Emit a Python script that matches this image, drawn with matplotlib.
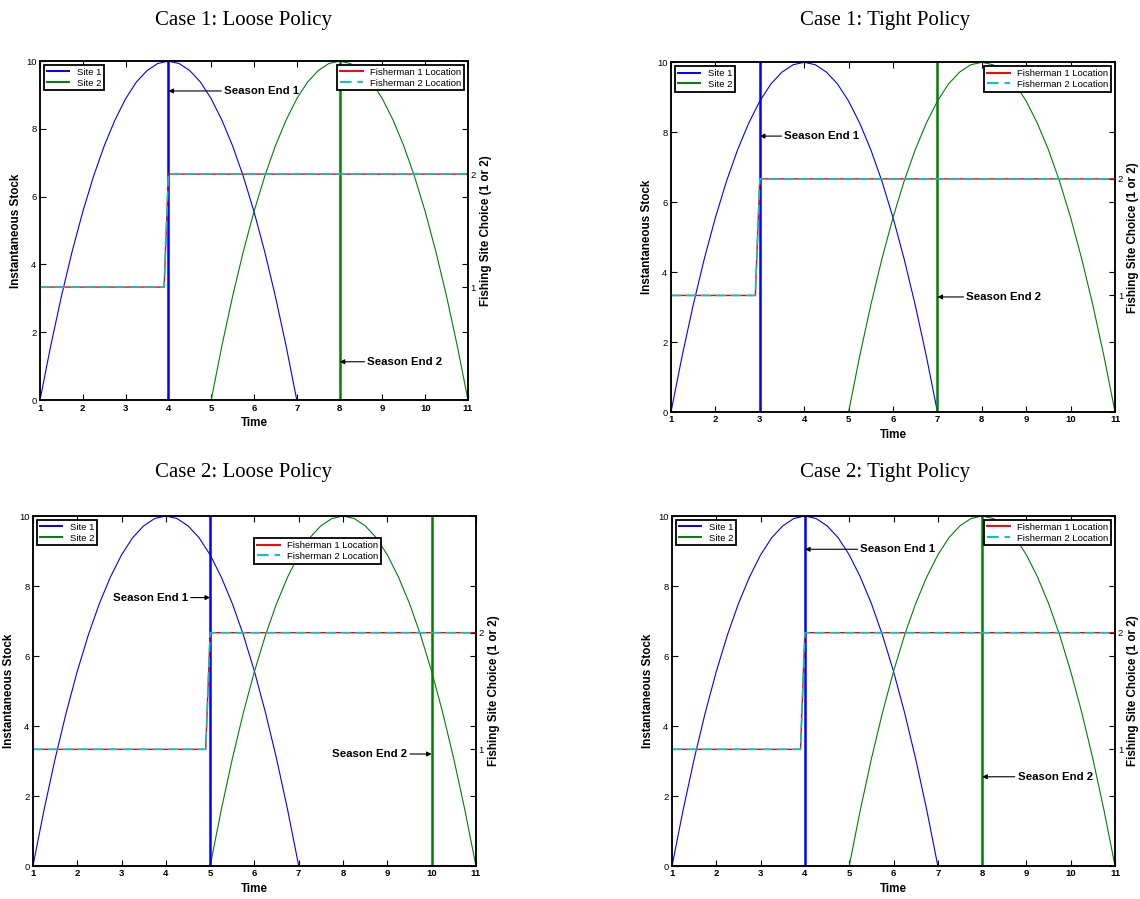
"""Fishing site stock and season-end plots, four policy cases."""

import matplotlib

matplotlib.use("Agg")
from matplotlib import pyplot as plt

plt.rcParams["font.family"] = ["Liberation Sans", "DejaVu Sans"]

# stock over one season, time measured from the season start
season_dt = [0, 0.25, 0.5, 0.75, 1, 1.25, 1.5, 1.75, 2, 2.25, 2.5, 2.75, 3,
             3.25, 3.5, 3.75, 4, 4.25, 4.5, 4.75, 5, 5.25, 5.5, 5.75, 6]
season_stock = [0, 1.6, 3.06, 4.38, 5.56, 6.6, 7.5, 8.26, 8.89, 9.38, 9.72,
                9.93, 10, 9.93, 9.72, 9.38, 8.89, 8.26, 7.5, 6.6, 5.56, 4.38,
                3.06, 1.6, 0]
site_start = [1, 5]
t_min, t_max = 1, 11

titles = ["Case 1: Loose Policy", "Case 1: Tight Policy",
          "Case 2: Loose Policy", "Case 2: Tight Policy"]
season_end_1 = [4, 3, 5, 4]
season_end_2 = [8, 7, 10, 8]
# where the "Season End" arrows point (stock value) and where the text sits
arrow1_y = [9.12, 7.89, 7.67, 9.05]
arrow2_y = [1.13, 3.29, 3.2, 2.55]
text1_x = [5.3, 3.55, 4.5, 5.25]
text2_x = [8.65, 7.65, 9.45, 8.8]
text_side = ["left", "left", "right", "left"]

# axes rectangles in figure fractions, and title positions
axes_rects = [
    [0.0351, 0.555, 0.3754, 0.377],
    [0.5886, 0.5417, 0.3895, 0.389],
    [0.0289, 0.0367, 0.3886, 0.3893],
    [0.5895, 0.0367, 0.3886, 0.3893],
]
title_xy = [(0.214, 0.977), (0.776, 0.977), (0.214, 0.474), (0.776, 0.474)]
fisher_legend_anchor = [None, None, (0.499, 0.937), None]

BLUE = (0, 0, 1)
GREEN = (0, 0.5, 0)
RED = (1, 0, 0)
CYAN = (0, 0.78, 0.78)


def site_series(start):
    t = [t_min] + [start + d for d in season_dt] + [t_max]
    s = [0] + season_stock + [0]
    return t, s


def boxed_legend(ax, handles, **kw):
    leg = ax.legend(handles=handles, fontsize=6.8, fancybox=False,
                    edgecolor="k", framealpha=1, handlelength=2.4,
                    borderpad=0.3, labelspacing=0.2, **kw)
    leg.get_frame().set_linewidth(1.3)
    for line in leg.get_lines():
        line.set_linewidth(1.4)
    return leg


fig = plt.figure(figsize=(11.4, 8.99), dpi=100)

for i, rect in enumerate(axes_rects):
    ax = fig.add_axes(rect)
    ax2 = ax.twinx()

    t1, s1 = site_series(site_start[0])
    t2, s2 = site_series(site_start[1])
    h1, = ax.plot(t1, s1, color=BLUE, lw=0.8, label="Site 1")
    h2, = ax.plot(t2, s2, color=GREEN, lw=0.8, label="Site 2")
    ax.plot([season_end_1[i]] * 2, [0, 10], color=BLUE, lw=1.8)
    ax.plot([season_end_2[i]] * 2, [0, 10], color=GREEN, lw=1.8)

    # fishermen switch from site 1 to site 2 at the first season end
    sw = season_end_1[i]
    ft = [t_min, sw - 0.1, sw, t_max]
    fc = [1, 1, 2, 2]
    f1, = ax2.plot(ft, fc, color=RED, lw=1.0, label="Fisherman 1 Location")
    f2, = ax2.plot(ft, fc, color=CYAN, lw=1.2, ls=(0, (6, 3)),
                   label="Fisherman 2 Location")

    ax.set_xlim(t_min, t_max)
    ax.set_ylim(0, 10)
    ax2.set_ylim(0, 3)
    ax.set_xticks(range(1, 12))
    ax.set_yticks(range(0, 11, 2))
    ax2.set_yticks([1, 2])
    ax.tick_params(direction="in", top=True, right=True, labelsize=6.8,
                   length=4, width=0.8, pad=2.5)
    ax2.tick_params(direction="in", labelsize=6.8, length=4, width=0.8, pad=2)
    for lab in ax.get_xticklabels():
        lab.set_fontweight("bold")
    for a in (ax, ax2):
        for sp in a.spines.values():
            sp.set_linewidth(1.1)

    ax.set_xlabel("Time", fontsize=8.4, fontweight="bold", labelpad=3.5)
    ax.set_ylabel("Instantaneous Stock", fontsize=8.4, fontweight="bold",
                  labelpad=3)
    ax2.set_ylabel("Fishing Site Choice (1 or 2)", fontsize=8.4,
                   fontweight="bold", labelpad=3)

    leg1 = boxed_legend(ax2, [h1, h2], loc="upper left", borderaxespad=0.4)
    ax2.add_artist(leg1)
    anchor = fisher_legend_anchor[i]
    if anchor is None:
        boxed_legend(ax2, [f1, f2], loc="upper right", borderaxespad=0.4)
    else:
        boxed_legend(ax2, [f1, f2], loc="upper left", bbox_to_anchor=anchor,
                     borderaxespad=0)

    arrow = dict(arrowstyle="-|>", color="k", lw=0.8, mutation_scale=7,
                 shrinkA=0, shrinkB=0)
    ax.annotate("Season End 1", xy=(season_end_1[i], arrow1_y[i]),
                xytext=(text1_x[i], arrow1_y[i]), ha=text_side[i],
                va="center", fontsize=8.2, fontweight="bold", arrowprops=arrow,
                zorder=5)
    ax.annotate("Season End 2", xy=(season_end_2[i], arrow2_y[i]),
                xytext=(text2_x[i], arrow2_y[i]), ha=text_side[i],
                va="center", fontsize=8.2, fontweight="bold", arrowprops=arrow,
                zorder=5)

    fig.text(*title_xy[i], titles[i], ha="center", va="center", fontsize=15,
             family="Liberation Serif")

fig.savefig("out.png", dpi=100)
